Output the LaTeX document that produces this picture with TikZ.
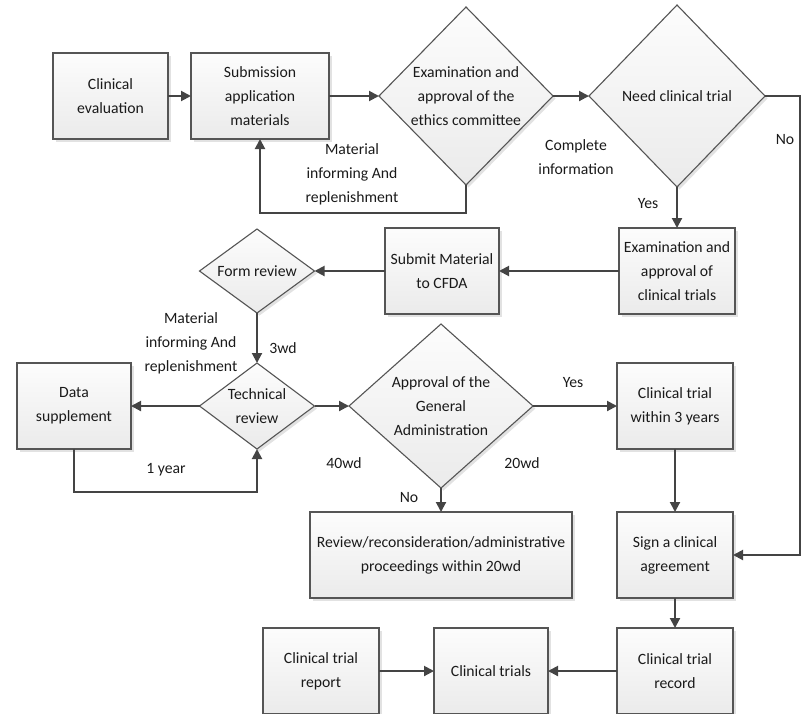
\documentclass[tikz,border=0pt]{standalone}
\usepackage{fontspec}
\setmainfont{Carlito}
\usetikzlibrary{shapes.geometric,arrows.meta,shadows}
\definecolor{linec}{HTML}{444444}
\definecolor{bordc}{HTML}{555555}
\definecolor{txtc}{HTML}{1A1A1A}
\tikzset{
  base/.style={draw=bordc, line width=1.1pt, inner sep=0pt, outer sep=0pt,
    top color=gray!2, bottom color=gray!16,
    drop shadow={shadow xshift=2.5pt, shadow yshift=-2.5pt, fill=gray!45, opacity=0.5}},
  box/.style={base, rectangle, minimum height=86pt},
  dia/.style={base, diamond},
  txt/.style={text=txtc, align=center, inner sep=0pt, font=\fontsize{15.7}{24}\selectfont},
  lbl/.style={txt},
  conn/.style={draw=linec, line width=2pt, -{Triangle[length=10pt,width=10pt]}},
  plain/.style={draw=linec, line width=2pt}
}
\begin{document}
\begin{tikzpicture}[x=1pt,y=-1pt]
\useasboundingbox (0,0) rectangle (802,713);
\clip (0,0) rectangle (802,713);
% boxes
\node[box, minimum width=115pt] (ce) at (110.5,96) {};
\node[txt] at (ce) {Clinical\\evaluation};
\node[box, minimum width=138pt] (sub) at (260,96) {};
\node[txt] at (sub) {Submission\\application\\materials};
\node[box, minimum width=116pt] (ect) at (677,271) {};
\node[txt] at (ect) {Examination and\\approval of\\clinical trials};
\node[box, minimum width=114pt] (cfda) at (442,271) {};
\node[txt] at (cfda) {Submit Material\\to CFDA};
\node[box, minimum width=114pt] (ds) at (74,406) {};
\node[txt] at (ds) {Data\\supplement};
\node[box, minimum width=116pt] (c3) at (675,406) {};
\node[txt] at (c3) {Clinical trial\\within 3 years};
\node[box, minimum width=116pt] (sign) at (675,555) {};
\node[txt] at (sign) {Sign a clinical\\agreement};
\node[box, minimum width=262pt] (rev) at (441,555) {};
\node[txt] at (rev) {Review/reconsideration/administrative\\proceedings within 20wd};
\node[box, minimum width=116pt] (rep) at (321,671) {};
\node[txt] at (rep) {Clinical trial\\report};
\node[box, minimum width=114pt] (trials) at (491,671) {};
\node[txt] at (trials) {Clinical trials};
\node[box, minimum width=116pt] (rec) at (675,671) {};
\node[txt] at (rec) {Clinical trial\\record};
% diamonds
\node[dia, minimum width=174pt, minimum height=178pt] (eth) at (466,96) {};
\node[txt] at (eth) {Examination and\\approval of the\\ethics committee};
\node[dia, minimum width=176pt, minimum height=182pt] (need) at (677,96) {};
\node[txt] at (need) {Need clinical trial};
\node[dia, minimum width=115pt, minimum height=84pt] (form) at (257,271) {};
\node[txt] at (form) {Form review};
\node[dia, minimum width=115pt, minimum height=86pt] (tech) at (257,406) {};
\node[txt] at (tech) {Technical\\review};
\node[dia, minimum width=184pt, minimum height=164pt] (appr) at (441,406) {};
\node[txt] at (appr) {Approval of the\\General\\Administration};
% helper coordinate
\coordinate (nr) at (800,96);
% connectors
\draw[conn] (ce.east) -- (sub.west);
\draw[conn] (sub.east) -- (eth.west);
\draw[conn] (eth.south) -- ++(0,28) -| (sub.south);
\draw[conn] (eth.east) -- (need.west);
\draw[conn] (need.east) -- (nr) |- (sign.east);
\draw[conn] (need.south) -- (ect.north);
\draw[conn] (ect.west) -- (cfda.east);
\draw[conn] (cfda.west) -- (form.east);
\draw[conn] (form.south) -- (tech.north);
\draw[conn] (tech.west) -- (ds.east);
\draw[conn] (ds.south) -- ++(0,43) -| (tech.south);
\draw[conn] (tech.east) -- (appr.west);
\draw[conn] (appr.east) -- (c3.west);
\draw[conn] (appr.south) -- (rev.north);
\draw[conn] (c3.south) -- (sign.north);
\draw[conn] (sign.south) -- (rec.north);
\draw[conn] (rep.east) -- (trials.west);
\draw[conn] (rec.west) -- (trials.east);
% labels
\node[lbl] (l1) at (352,174) {Material\\informing And\\replenishment};
\node[lbl] (l2) at (576,157) {Complete\\information};
\node[lbl] (l3) at (785,140) {No};
\node[lbl] (l4) at (648,204) {Yes};
\node[lbl] (l5) at (191,343) {Material\\informing And\\replenishment};
\node[lbl] (l6) at (283,348) {3wd};
\node[lbl] (l7) at (166,470) {1 year};
\node[lbl] (l8) at (344,463) {40wd};
\node[lbl] (l9) at (522,463) {20wd};
\node[lbl] (l10) at (573,383) {Yes};
\node[lbl] (l11) at (409,498) {No};
\end{tikzpicture}
\end{document}
